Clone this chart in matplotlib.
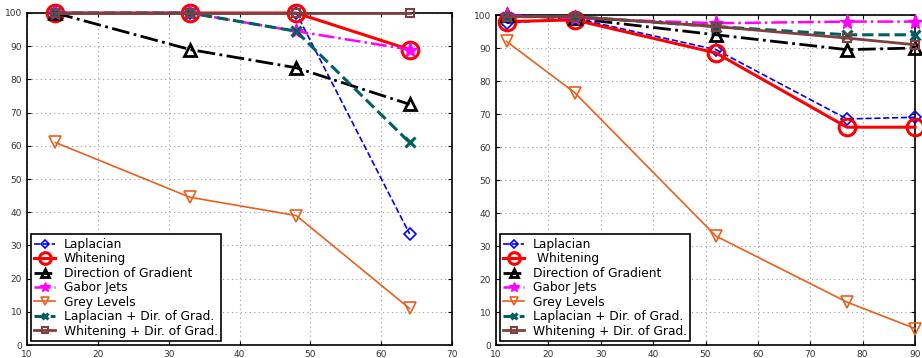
import matplotlib
matplotlib.use("Agg")
import matplotlib.pyplot as plt

# left panel
x_left = [14, 33, 48, 64]
lap_l = [100, 100, 100, 33.5]
whit_l = [100, 100, 100, 89]
dog_l = [100, 89, 83.5, 72.5]
gabor_l = [100, 100, 94.5, 89]
grey_l = [61, 44.5, 39, 11]
lapdog_l = [100, 100, 94.5, 61]
whitdog_l = [100, 100, 100, 100]

# right panel
x_right = [12, 25, 52, 77, 90]
lap_r = [97.5, 99, 89.5, 68.5, 69]
whit_r = [98, 98.5, 88.5, 66, 66]
dog_r = [100, 99, 94, 89.5, 90]
gabor_r = [100, 99, 97.5, 98, 98]
grey_r = [92, 76.5, 33, 13, 5]
lapdog_r = [99.5, 99.5, 96.5, 94, 94]
whitdog_r = [99.5, 99.5, 96.5, 93, 91]

labels_left = ["Laplacian", "Whitening", "Direction of Gradient", "Gabor Jets",
               "Grey Levels", "Laplacian + Dir. of Grad.", "Whitening + Dir. of Grad."]
labels_right = ["Laplacian", " Whitening", "Direction of Gradient", "Gabor Jets",
                "Grey Levels", "Laplacian + Dir. of Grad.", "Whitening + Dir. of Grad."]

orange = "#e8601c"
teal = "#006060"
brown = "#804040"

styles = [
    dict(color="blue", ls="--", lw=1.2, marker="D", ms=6, mfc="none", mew=1.2),
    dict(color="red", ls="-", lw=2.2, marker="o", ms=12, mfc="none", mew=2.2),
    dict(color="black", ls="-.", lw=2.0, marker="^", ms=9, mfc="none", mew=2.0),
    dict(color="magenta", ls="-.", lw=1.8, marker="*", ms=11, mfc="magenta", mew=1),
    dict(color=orange, ls="-", lw=1.2, marker="v", ms=9, mfc="none", mew=1.2),
    dict(color=teal, ls="--", lw=2.2, marker="x", ms=7, mew=2.2),
    dict(color=brown, ls="-", lw=2.0, marker="s", ms=6, mfc="none", mew=1.5),
]

fig = plt.figure(figsize=(9.22, 3.58), dpi=100)
ax1 = fig.add_axes([0.0293, 0.0363, 0.4610, 0.9274])
ax2 = fig.add_axes([0.5380, 0.0363, 0.4544, 0.9218])


def panel(ax, x, series, labels, xlim, xticks):
    for y, st, lab in zip(series, styles, labels):
        ax.plot(x, y, label=lab, clip_on=False, zorder=3, **st)
    ax.set_xlim(*xlim)
    ax.set_ylim(0, 100)
    ax.set_xticks(xticks)
    ax.set_yticks(range(0, 101, 10))
    ax.grid(True, ls=(0, (1, 3)), color="#999999", lw=0.8)
    ax.tick_params(direction="in", labelsize=6.5, labelcolor="#333333", length=3,
                   top=True, right=True)
    for sp in ax.spines.values():
        sp.set_linewidth(1.2)
    leg = ax.legend(loc="lower left", fontsize=8.8, labelspacing=0.12,
                    handlelength=1.7, handletextpad=0.7, borderpad=0.3,
                    fancybox=False, framealpha=1, edgecolor="black",
                    borderaxespad=0.3, markerscale=0.7)
    leg.get_frame().set_linewidth(1.2)


panel(ax1, x_left, [lap_l, whit_l, dog_l, gabor_l, grey_l, lapdog_l, whitdog_l],
      labels_left, (10, 70), range(10, 71, 10))
panel(ax2, x_right, [lap_r, whit_r, dog_r, gabor_r, grey_r, lapdog_r, whitdog_r],
      labels_right, (10, 90), range(10, 91, 10))

fig.savefig("out.png", dpi=100)
